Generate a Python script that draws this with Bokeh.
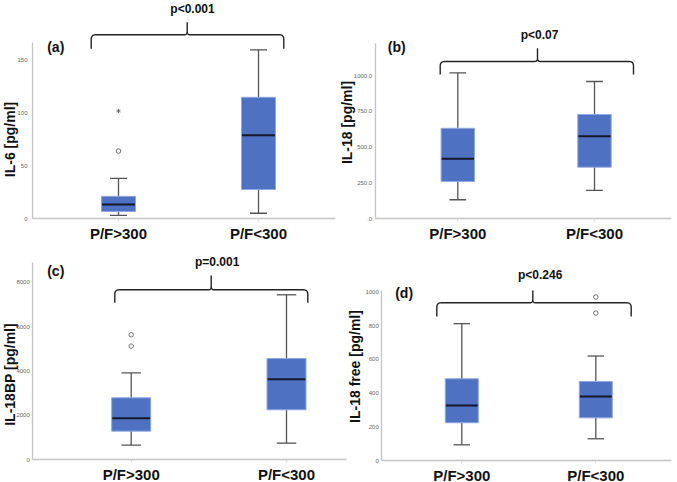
import numpy as np
from bokeh.plotting import figure
from bokeh.models import Range1d, LinearAxis, FixedTicker
from bokeh.embed import file_html
from bokeh.resources import INLINE
from bokeh.core.properties import value

# ---------------- data ----------------
groups = ["P/F>300", "P/F<300"]
group_pos = [1, 2]

# (a) IL-6
il6_low = [3, 5]
il6_q1 = [6.6, 27.5]
il6_med = [13.3, 79]
il6_q3 = [21, 115]
il6_high = [38, 160]
il6_out_x = [1]
il6_out_y = [64]
il6_ext_x = [1]
il6_ext_y = [102]
il6_ticks = [0, 50, 100, 150]

# (b) IL-18
il18_low = [131, 196]
il18_q1 = [259, 359]
il18_med = [417, 576]
il18_q3 = [631, 727]
il18_high = [1019, 958]
il18_ticks = [0, 250, 500, 750, 1000]
il18_tick_labels = [".0", "250.0", "500.0", "750.0", "1000.0"]

# (c) IL-18BP
bp_low = [661, 751]
bp_q1 = [1291, 2252]
bp_med = [1877, 3634]
bp_q3 = [2793, 4565]
bp_high = [3920, 7433]
bp_out_x = [1, 1]
bp_out_y = [5121, 5631]
bp_ticks = [0, 2000, 4000, 6000, 8000]

# (d) IL-18 free
free_low = [93, 129]
free_q1 = [224, 253]
free_med = [327, 380]
free_q3 = [485, 469]
free_high = [812, 620]
free_out_x = [2, 2]
free_out_y = [875, 970]
free_ticks = [0, 200, 400, 600, 800, 1000]

p_texts = ["p<0.001", "p<0.07", "p=0.001", "p<0.246"]
panel_letters = ["(a)", "(b)", "(c)", "(d)"]
y_titles = ["IL-6 [pg/ml]", "IL-18 [pg/ml]", "IL-18BP  [pg/ml]", "IL-18 free [pg/ml]"]

# ---------------- style ----------------
FONT = "Liberation Sans"
BOX_FILL = "#4e71c2"
BOX_LINE = "#8fa8e2"
MED_COL = "#15172a"
WHISK = "#555555"
AXIS_COL = "#c4c4c4"
TICK_LBL = "#666666"

CW, CH = 677, 482

p = figure(width=CW, height=CH, x_range=Range1d(0, CW), y_range=Range1d(CH, 0),
           x_axis_type=None, y_axis_type=None,
           output_backend="svg", toolbar_location=None,
           min_border=0, min_border_left=0, min_border_right=0,
           min_border_top=0, min_border_bottom=0)
p.outline_line_color = None
p.background_fill_color = "white"
p.border_fill_color = "white"


def qbez(p0, p1, p2, n=8):
    t = np.linspace(0, 1, n)[:, None]
    p0, p1, p2 = np.array(p0, float), np.array(p1, float), np.array(p2, float)
    return (1 - t) ** 2 * p0 + 2 * (1 - t) * t * p1 + t ** 2 * p2


def brace_px(x0, x1, xt, ye, yh, yt, r=4.5, rt=3.0):
    pts = [np.array([[x0, ye]])]
    pts.append(qbez([x0, yh + r], [x0, yh], [x0 + r, yh]))
    pts.append(qbez([xt - rt, yh], [xt, yh], [xt, yh - rt]))
    pts.append(np.array([[xt, yt]]))
    pts.append(qbez([xt, yh - rt], [xt, yh], [xt + rt, yh]))
    pts.append(qbez([x1 - r, yh], [x1, yh], [x1, yh + r]))
    pts.append(np.array([[x1, ye]]))
    a = np.vstack(pts)
    return a[:, 0], a[:, 1]


def add_panel(k, L, low, q1, med, q3, high, ticks, axis_top, title, ptxt, letter,
              tick_labels=None, out=None, ext=None):
    c1, c2 = L["c1"], L["c2"]
    ux = lambda px: 1 + (np.asarray(px, float) - c1) / (c2 - c1)
    uy = lambda py: (L["y0"] - np.asarray(py, float)) * L["upp"]
    xn, yn = f"x{k}", f"y{k}"
    p.extra_x_ranges[xn] = Range1d(float(ux(0)), float(ux(CW)))
    p.extra_y_ranges[yn] = Range1d(float(uy(CH)), float(uy(0)))
    kw = dict(x_range_name=xn, y_range_name=yn)

    x_left = float(ux(L["yaxis"]))
    xa = LinearAxis(fixed_location=0, bounds=(x_left, float(ux(L["xend"]))),
                    ticker=FixedTicker(ticks=group_pos),
                    major_label_overrides={g_pos: g for g_pos, g in zip(group_pos, groups)},
                    **kw)
    xa.axis_line_color = AXIS_COL
    xa.axis_line_width = 1.3
    xa.major_tick_line_color = "#dddddd"
    xa.major_tick_out = 3
    xa.major_tick_in = 0
    xa.minor_tick_line_color = None
    xa.major_label_standoff = 3
    xa.major_label_text_font = FONT
    xa.major_label_text_font_style = "bold"
    xa.major_label_text_font_size = "15px"
    xa.major_label_text_color = "#111111"
    p.add_layout(xa, "below")

    ya = LinearAxis(fixed_location=x_left, bounds=(0, axis_top),
                    ticker=FixedTicker(ticks=ticks), **kw)
    if tick_labels is not None:
        ya.major_label_overrides = {t: s for t, s in zip(ticks, tick_labels)}
    ya.axis_line_color = AXIS_COL
    ya.axis_line_width = 1.3
    ya.major_tick_line_color = None
    ya.major_tick_out = 0
    ya.major_tick_in = 0
    ya.minor_tick_line_color = None
    ya.major_label_standoff = L["lstand"]
    ya.major_label_text_font = FONT
    ya.major_label_text_font_size = "6px"
    ya.major_label_text_color = TICK_LBL
    p.add_layout(ya, "left")

    xs = np.array(group_pos, float)
    bw = L["bw"] / (c2 - c1)
    cw = bw * 0.5

    # whiskers
    p.segment(x0=xs, y0=q3, x1=xs, y1=high, line_color=WHISK, line_width=1.3, **kw)
    p.segment(x0=xs, y0=q1, x1=xs, y1=low, line_color=WHISK, line_width=1.3, **kw)
    p.segment(x0=xs - cw / 2, y0=high, x1=xs + cw / 2, y1=high, line_color=WHISK,
              line_width=1.3, **kw)
    p.segment(x0=xs - cw / 2, y0=low, x1=xs + cw / 2, y1=low, line_color=WHISK,
              line_width=1.3, **kw)
    # boxes
    p.vbar(x=xs, width=bw, bottom=q1, top=q3, fill_color=BOX_FILL,
           line_color=BOX_LINE, line_width=1, **kw)
    p.segment(x0=xs - bw / 2 + 0.004, y0=med, x1=xs + bw / 2 - 0.004, y1=med,
              line_color=MED_COL, line_width=2, **kw)
    if out is not None:
        p.scatter(x=out[0], y=out[1], marker="circle", size=4.5,
                  fill_color="white", line_color="#707070", line_width=1, **kw)
    if ext is not None:
        p.scatter(x=ext[0], y=ext[1], marker="asterisk", size=4,
                  line_color="#707070", line_width=1, **kw)

    # brace
    bx, by = brace_px(*L["brace"])
    p.line(x=ux(bx), y=uy(by), line_color="#222222", line_width=1.4, **kw)

    tx, ty = L["ptxt"]
    p.text(x=[float(ux(tx))], y=[float(uy(ty))], text=[ptxt],
           text_font=value(FONT), text_font_style="bold", text_font_size="12px",
           text_align="center", text_baseline="middle", text_color="#111111", **kw)
    lx, ly = L["letter"]
    p.text(x=[float(ux(lx))], y=[float(uy(ly))], text=[letter],
           text_font=value(FONT), text_font_style="bold", text_font_size="14px",
           text_align="left", text_baseline="middle", text_color="#111111", **kw)
    yx, yy = L["ytitle"]
    p.text(x=[float(ux(yx))], y=[float(uy(yy))], text=[title], angle=np.pi / 2,
           text_font=value(FONT), text_font_style="bold", text_font_size="14px",
           text_align="center", text_baseline="middle", text_color="#111111", **kw)


# layout constants in canvas pixels
LA = dict(yaxis=32, xend=335, c1=118, c2=258, y0=218, upp=50 / 52.7, bw=34, lstand=5,
          brace=(90.7, 283.3, 186.7, 48.3, 34.3, 21.7), ptxt=(192, 8),
          letter=(46.7, 46.7), ytitle=(9, 139))
LB = dict(yaxis=374.7, xend=671, c1=457.3, c2=594, y0=218, upp=250 / 35.75, bw=33.4,
          lstand=3, brace=(439.7, 633, 537, 74, 61, 47.7), ptxt=(539, 34),
          letter=(387.3, 46.7), ytitle=(346, 122))
LC = dict(yaxis=32.3, xend=346, c1=130.7, c2=286, y0=459.3, upp=2000 / 44.4, bw=39,
          lstand=3, brace=(114.3, 307.3, 210.7, 302.3, 289.3, 275), ptxt=(216.7, 261),
          letter=(46.7, 270.8), ytitle=(9, 372))
LD = dict(yaxis=381.3, xend=671, c1=461.3, c2=595.3, y0=460, upp=200 / 33.7, bw=33,
          lstand=3, brace=(436.3, 630.7, 532.3, 316, 302.3, 290), ptxt=(539.7, 274),
          letter=(394.7, 292.5), ytitle=(354, 366))

add_panel("a", LA, il6_low, il6_q1, il6_med, il6_q3, il6_high, il6_ticks, 167,
          y_titles[0], p_texts[0], panel_letters[0],
          out=(il6_out_x, il6_out_y), ext=(il6_ext_x, il6_ext_y))
add_panel("b", LB, il18_low, il18_q1, il18_med, il18_q3, il18_high, il18_ticks, 1224,
          y_titles[1], p_texts[1], panel_letters[1], tick_labels=il18_tick_labels)
add_panel("c", LC, bp_low, bp_q1, bp_med, bp_q3, bp_high, bp_ticks, 8900,
          y_titles[2], p_texts[2], panel_letters[2], out=(bp_out_x, bp_out_y))
add_panel("d", LD, free_low, free_q1, free_med, free_q3, free_high, free_ticks, 1010,
          y_titles[3], p_texts[3], panel_letters[3], out=(free_out_x, free_out_y))

open("out.html", "w").write(file_html(p, INLINE))
